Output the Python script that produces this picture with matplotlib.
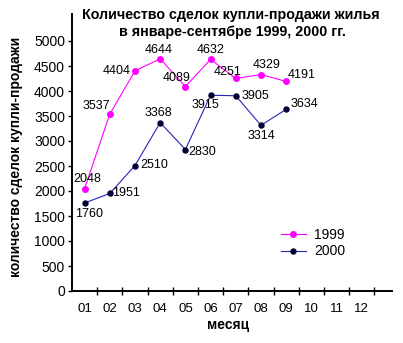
import matplotlib
matplotlib.use("Agg")
import matplotlib.pyplot as plt

plt.rcParams['font.family'] = ['Liberation Sans', 'DejaVu Sans']

months = ['01', '02', '03', '04', '05', '06', '07', '08', '09', '10', '11', '12']
deals_1999 = [2048, 3537, 4404, 4644, 4089, 4632, 4251, 4329, 4191]
deals_2000 = [1760, 1951, 2510, 3368, 2830, 3915, 3905, 3314, 3634]

# label offsets in points (dx, dy) for each month
offs_1999 = [(2, 7), (-10, 6), (-13, 0), (-1, 6), (-6, 6), (0, 7), (-6, 5), (4, 7), (11, 5)]
offs_2000 = [(3, -8), (12, 0), (14, 0), (-1, 7), (12, -2), (-4, -7), (14, 0), (0, -8), (13, 4)]

fig = plt.figure(figsize=(4.03, 3.43), dpi=100)
ax = fig.add_axes([72 / 403, 52 / 343, 320 / 403, 277 / 343])

x99 = list(range(1, len(deals_1999) + 1))
x00 = list(range(1, len(deals_2000) + 1))

ax.plot(x99, deals_1999, color='#ff00ff', lw=0.8, marker='o', ms=4,
        mfc='#ff00ff', mec='#ff00ff', label='1999')
ax.plot(x00, deals_2000, color='#2626b8', lw=0.8, marker='o', ms=3.6,
        mfc='#000033', mec='#000033', label='2000')

for xs, ys, offs in ((x99, deals_1999, offs_1999), (x00, deals_2000, offs_2000)):
    for xv, yv, (dx, dy) in zip(xs, ys, offs):
        ax.annotate(str(yv), (xv, yv), xytext=(dx, dy), textcoords='offset points',
                    ha='center', va='center', fontsize=9)

ax.set_xlim(0.5, 13.2)
ax.set_ylim(0, 5540)
ax.set_yticks(range(0, 5001, 500))
ax.tick_params(axis='y', direction='out', length=3, width=1, labelsize=10, pad=2)

# ticks on category boundaries, labels at category centres
ax.set_xticks([i + 0.5 for i in range(1, 13)])
ax.set_xticklabels([])
ax.set_xticks(range(1, 13), minor=True)
ax.set_xticklabels(months, minor=True, fontsize=9.5)
ax.tick_params(axis='x', which='major', direction='inout', length=6, width=1)
ax.tick_params(axis='x', which='minor', length=0, pad=9)

for s in ('top', 'right'):
    ax.spines[s].set_visible(False)
for s in ('left', 'bottom'):
    ax.spines[s].set_linewidth(1.4)

fig.text(231 / 403, 1 - 15 / 343, 'Количество сделок купли-продажи жилья',
         ha='center', va='center', fontsize=10.3, fontweight='bold')
fig.text(232 / 403, 1 - 32 / 343, 'в январе-сентябре 1999, 2000 гг.',
         ha='center', va='center', fontsize=10.3, fontweight='bold')
fig.text(16 / 403, 1 - 157 / 343, 'количество сделок купли-продажи',
         ha='center', va='center', rotation=90, fontsize=10, fontweight='bold')
fig.text(228 / 403, 1 - 325 / 343, 'месяц', ha='center', va='center',
         fontsize=10, fontweight='bold')

ax.legend(loc='center left', bbox_to_anchor=(274 / 403, 1 - 243 / 343),
          bbox_transform=fig.transFigure, frameon=False, fontsize=10,
          handlelength=1.8, handletextpad=0.6, labelspacing=0.2, borderpad=0)

fig.savefig('out.png', dpi=100)
